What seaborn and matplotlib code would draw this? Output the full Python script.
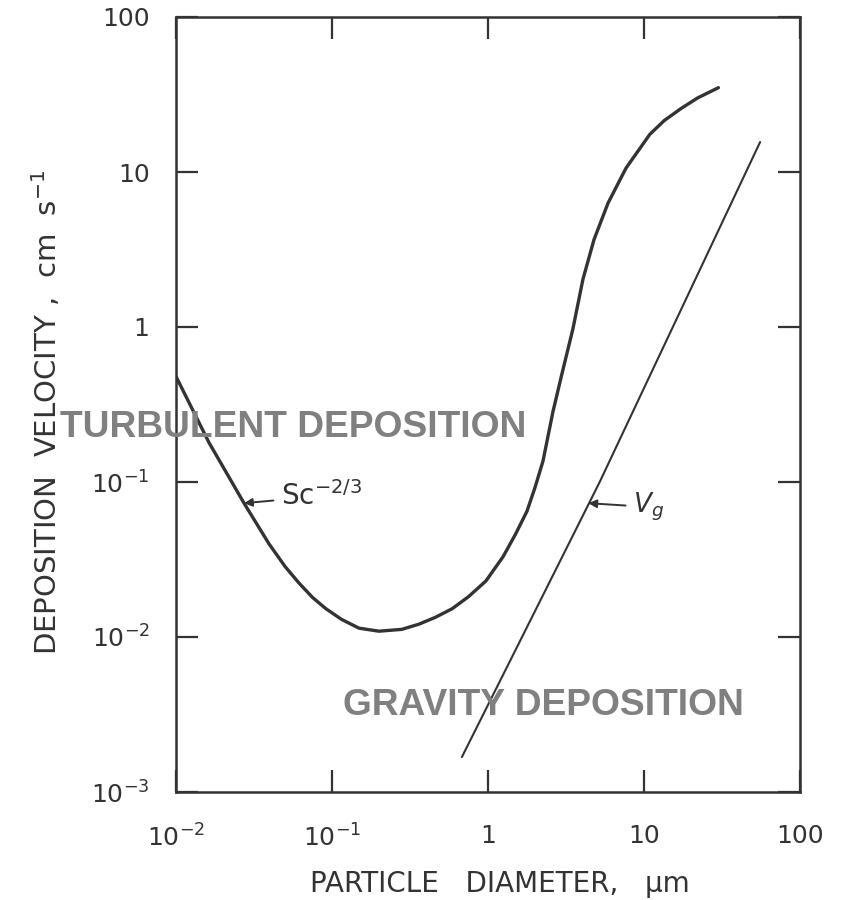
import numpy as np
import pandas as pd
import matplotlib
matplotlib.use("Agg")
import matplotlib.pyplot as plt
import seaborn as sns
from matplotlib.ticker import FixedLocator, FixedFormatter, NullLocator

# values
# turbulent deposition curve (particle diameter um, velocity cm/s)
turb_d = [0.01, 0.0127, 0.0163, 0.0273, 0.0394, 0.05, 0.0614, 0.075, 0.0916,
          0.115, 0.149, 0.2, 0.28, 0.361, 0.46, 0.588, 0.75, 0.97, 1.25, 1.5,
          1.78, 2.0, 2.25, 2.61, 2.98, 3.5, 4.06, 4.78, 5.88, 7.67, 10.9,
          13.5, 17.3, 22.0, 30.0]
turb_v = [0.48, 0.296, 0.179, 0.073, 0.040, 0.0285, 0.0223, 0.018, 0.0152,
          0.0130, 0.0114, 0.0109, 0.0112, 0.0121, 0.0134, 0.0152, 0.0182,
          0.023, 0.033, 0.046, 0.065, 0.092, 0.136, 0.285, 0.50, 0.97, 2.03,
          3.66, 6.3, 10.6, 17.5, 21.5, 25.7, 30.0, 35.0]

# gravitational settling velocity Vg
grav_d = [0.68, 5.2, 55.5]
grav_v = [0.00168, 0.1, 15.6]

x_ticks = [0.01, 0.1, 1, 10, 100]
x_labels = ["$10^{-2}$", "$10^{-1}$", "1", "10", "100"]
y_ticks = [0.001, 0.01, 0.1, 1, 10, 100]
y_labels = ["$10^{-3}$", "$10^{-2}$", "$10^{-1}$", "1", "10", "100"]

ink = "#333333"

sns.set_style("ticks")
plt.rcParams["font.family"] = ["DejaVu Sans"]
plt.rcParams["mathtext.fontset"] = "dejavusans"

turb = pd.DataFrame({"d": turb_d, "v": turb_v})
grav = pd.DataFrame({"d": grav_d, "v": grav_v})

fig = plt.figure(figsize=(8.41, 9.0), dpi=100)
ax = fig.add_axes([176 / 841, 108 / 900, 624 / 841, 775 / 900])

sns.lineplot(data=turb, x="d", y="v", ax=ax, sort=False, estimator=None,
             color=ink, linewidth=2.4)
sns.lineplot(data=grav, x="d", y="v", ax=ax, sort=False, estimator=None,
             color=ink, linewidth=1.5)

ax.set_xscale("log")
ax.set_yscale("log")
ax.set_xlim(0.01, 100)
ax.set_ylim(0.001, 100)

ax.xaxis.set_major_locator(FixedLocator(x_ticks))
ax.xaxis.set_major_formatter(FixedFormatter(x_labels))
ax.yaxis.set_major_locator(FixedLocator(y_ticks))
ax.yaxis.set_major_formatter(FixedFormatter(y_labels))
ax.xaxis.set_minor_locator(NullLocator())
ax.yaxis.set_minor_locator(NullLocator())

ax.tick_params(axis="both", which="major", direction="in", top=True, right=True,
               length=16, width=1.6, color=ink, labelcolor=ink, labelsize=18)
ax.tick_params(axis="x", pad=23)
ax.tick_params(axis="y", pad=19)

for sp in ax.spines.values():
    sp.set_linewidth(1.8)
    sp.set_color(ink)

ax.set_xlabel("PARTICLE   DIAMETER,   μm", fontsize=20, color=ink)
ax.set_ylabel("DEPOSITION  VELOCITY ,  cm  s$^{-1}$", fontsize=21, color=ink)
ax.xaxis.set_label_coords(0.519, -0.1)
ax.yaxis.set_label_coords(-0.181, 0.49)

arrow = dict(arrowstyle="-|>", color=ink, lw=1.4, mutation_scale=12,
             shrinkA=3, shrinkB=0)
ax.annotate("Sc$^{-2/3}$", xy=(0.0273, 0.073), xytext=(0.047, 0.081),
            fontsize=20, color=ink, ha="left", va="center", arrowprops=arrow)
ax.annotate("$V_g$", xy=(4.4, 0.073), xytext=(8.5, 0.069),
            fontsize=19, color=ink, ha="left", va="center", arrowprops=arrow)

big = dict(fontsize=26.7, fontweight="bold", color="#808080",
           family=["Liberation Sans", "DejaVu Sans"], ha="center", va="baseline")
fig.text(293 / 841, 1 - 437 / 900, "TURBULENT DEPOSITION", **big)
fig.text(543 / 841, 1 - 715 / 900, "GRAVITY DEPOSITION", **big)

fig.savefig("out.png", dpi=100)
